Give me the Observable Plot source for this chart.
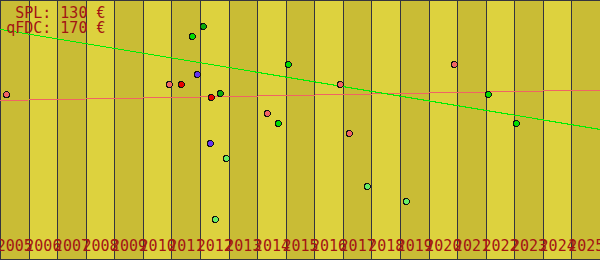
<!DOCTYPE html>
<html>
<head>
<meta charset="utf-8">
<script src="https://cdn.jsdelivr.net/npm/d3@7"></script>
<script src="https://cdn.jsdelivr.net/npm/@observablehq/plot@0.6"></script>
<style>
  html, body { margin: 0; padding: 0; background: #ddd23e; }
  svg { display: block; }
  svg circle, svg path, svg line, svg rect { shape-rendering: crispEdges; }
</style>
</head>
<body>
<div id="chart"></div>
<script>
// Year columns (tick labels)
const years = [2005, 2006, 2007, 2008, 2009, 2010, 2011, 2012, 2013, 2014, 2015,
               2016, 2017, 2018, 2019, 2020, 2021, 2022, 2023, 2024, 2025];

// Price labels in the top-left corner
const priceNames = ["SPL", "qFDC"];
const priceValues = [130, 170];

// Observed points: fractional year, value, group
const pointYear  = [2005.21, 2010.91, 2011.33, 2011.71, 2011.89, 2012.10, 2012.34, 2012.38,
                    2012.52, 2012.69, 2012.90, 2014.34, 2014.72, 2015.07, 2016.89, 2017.21,
                    2017.84, 2019.20, 2020.88, 2022.07, 2023.05];
const pointValue = [166, 176, 176, 224, 186, 234, 117, 163,
                    41, 167, 102, 147, 137, 196, 176, 127,
                    74, 59, 196, 166, 137];
const pointGroup = ["A", "A", "B", "C", "D", "E", "D", "B",
                    "F", "E", "F", "A", "C", "C", "A", "A",
                    "F", "F", "A", "C", "C"];

// Trend lines (value at start of 2005 and end of 2025)
const trendYears = [2005, 2026];
const splTrend   = [160, 170.5];
const qfdcTrend  = [231, 131];

const groupNames  = ["A", "B", "C", "D", "E", "F"];
const groupColors = ["#f06464", "#e60000", "#00dd00", "#6633ee", "#0aa80a", "#66ee66"];

const points = pointYear.map((x, i) => ({x, v: pointValue[i], g: pointGroup[i]}));
const columns = years.map((y, i) => ({x1: y, x2: y + 1, shade: i % 2 === 0 ? "#c9bc35" : "#ddd23e"}));
const spl = trendYears.map((x, i) => ({x, v: splTrend[i]}));
const qfdc = trendYears.map((x, i) => ({x, v: qfdcTrend[i]}));
const cornerText = priceNames.map((n, i) => `${n}: ${priceValues[i]} €`).join("\n");

const font = "DejaVu Sans Mono";
const textColor = "#a31414";

const plot = Plot.plot({
  width: 600,
  height: 260,
  margin: 0,
  x: {type: "linear", domain: [2005, 2026], axis: null},
  y: {domain: [0, 260], axis: null},
  color: {domain: groupNames, range: groupColors},
  style: {fontFamily: font, background: "#ddd23e", overflow: "visible"},
  marks: [
    Plot.rect(columns, {x1: "x1", x2: "x2", fill: "shade"}),
    Plot.ruleX(years.slice(1), {stroke: "#34343f", strokeWidth: 1}),
    Plot.frame({stroke: "#34343f", strokeWidth: 1, insetBottom: 1}),
    Plot.line(spl, {x: "x", y: "v", stroke: "#f06464", strokeWidth: 1}),
    Plot.line(qfdc, {x: "x", y: "v", stroke: "#00ee00", strokeWidth: 1}),
    Plot.dot(points, {x: "x", y: "v", fill: "g", r: 3, stroke: "#111", strokeWidth: 1}),
    Plot.text(years, {
      x: d => d + 0.5, frameAnchor: "bottom", lineAnchor: "bottom", dy: -10,
      text: d => String(d), fill: textColor, fontSize: 15, fontFamily: font
    }),
    Plot.text([cornerText], {
      frameAnchor: "top-left", textAnchor: "end", lineAnchor: "top", lineHeight: 1,
      dx: 105, dy: 7, text: d => d, fill: textColor, fontSize: 15, fontFamily: font
    })
  ]
});

document.getElementById("chart").appendChild(plot);
</script>
</body>
</html>
